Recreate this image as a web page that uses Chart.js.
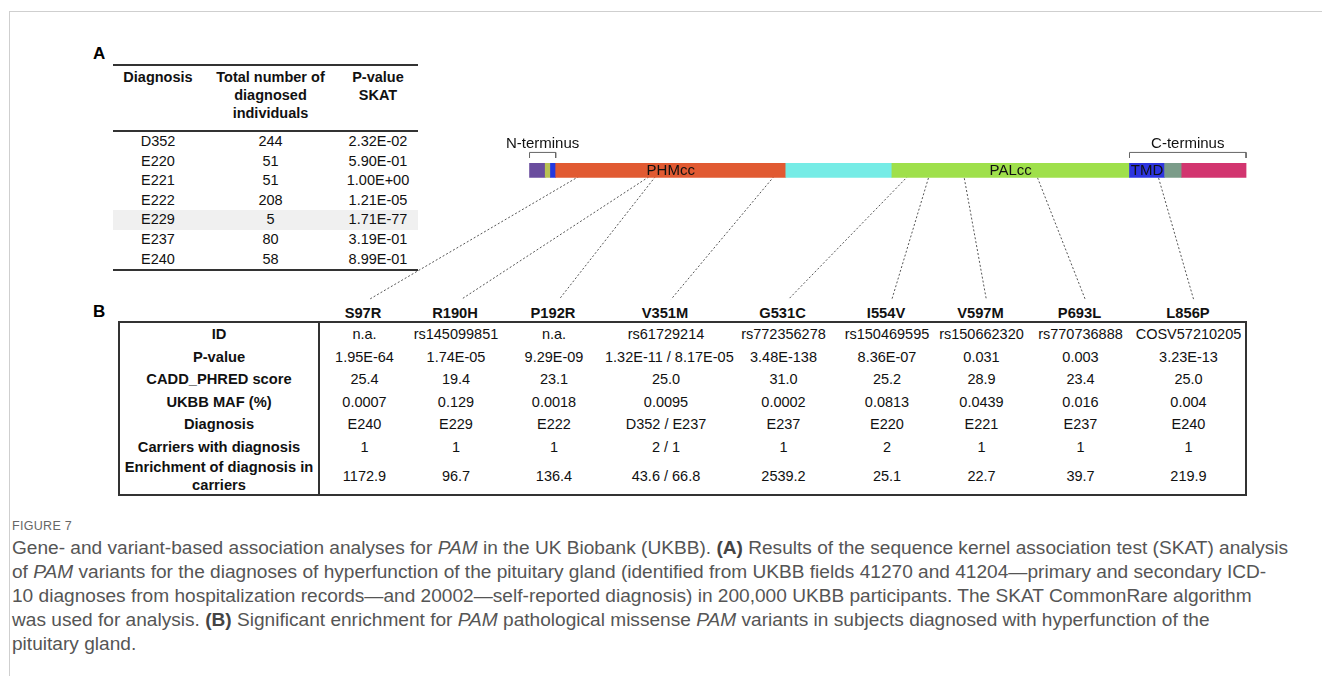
<!DOCTYPE html>
<html>
<head>
<meta charset="utf-8">
<script src="https://cdn.jsdelivr.net/npm/chart.js@4.4.1/dist/chart.umd.min.js"></script>
<style>
  html, body { margin: 0; padding: 0; background: #fff; }
  body { width: 1322px; height: 676px; position: relative; overflow: hidden; font-family: "Liberation Sans", Arial, sans-serif; color: #111; }
  .frame { position: absolute; left: 9px; top: 11px; width: 1320px; height: 700px; border-top: 1px solid #cfcfcf; border-left: 1px solid #cfcfcf; }
  .panel { position: absolute; font-weight: bold; font-size: 17px; color: #000; }
  #tabA { position: absolute; left: 113px; top: 64px; border-collapse: collapse; table-layout: fixed; font-size: 14.5px; }
  #tabA th { font-weight: bold; vertical-align: top; line-height: 18px; padding: 2px 0 0 0; height: 62px; text-align: center; }
  #tabA thead tr { border-top: 2px solid #333; border-bottom: 2px solid #333; }
  #tabA tbody tr:last-child { border-bottom: 2px solid #333; }
  #tabA td { height: 19.6px; padding: 0; text-align: center; line-height: 19.6px; }
  #tabA tr.hl td { background: #f0f0f0; }
  #mutHead { position: absolute; left: 318px; top: 304px; display: flex; font-weight: bold; font-size: 14.7px; line-height: 18px; }
  #mutHead span { display: block; text-align: center; white-space: nowrap; }
  #tabB { position: absolute; left: 118px; top: 321px; width: 1127px; border-collapse: collapse; table-layout: fixed; font-size: 14.5px; border: 2px solid #333; }
  #tabB td { padding: 0; text-align: center; line-height: 18px; white-space: nowrap; overflow: visible; }
  #tabB td.lab { font-weight: bold; border-right: 2px solid #333; white-space: normal; font-size: 14.7px; }
  #chartWrap { position: absolute; left: 340px; top: 130px; width: 920px; height: 175px; }
  #chartWrap canvas { display: block; }
  .figno { position: absolute; left: 12px; top: 519px; font-size: 12.5px; color: #666; letter-spacing: 0.3px; }
  .caption { position: absolute; left: 12px; top: 536px; font-size: 19.1px; line-height: 24px; color: #555; white-space: nowrap; }
  .caption b { color: #444; }
</style>
</head>
<body>
<div class="frame"></div>
<div class="panel" style="left:93px; top:44px;">A</div>
<div class="panel" style="left:93px; top:302px;">B</div>

<table id="tabA">
  <colgroup><col style="width:90px"><col style="width:135px"><col style="width:80px"></colgroup>
  <thead><tr><th>Diagnosis</th><th>Total number of diagnosed individuals</th><th>P-value SKAT</th></tr></thead>
  <tbody id="tabABody"></tbody>
</table>

<div id="mutHead"></div>
<table id="tabB"><colgroup id="tabBCols"></colgroup><tbody id="tabBBody"></tbody></table>

<div id="chartWrap"><canvas id="domainChart" width="920" height="175"></canvas></div>

<div class="figno">FIGURE 7</div>
<div class="caption">
Gene- and variant-based association analyses for <i>PAM</i> in the UK Biobank (UKBB). <b>(A)</b> Results of the sequence kernel association test (SKAT) analysis<br>
of <i>PAM</i> variants for the diagnoses of hyperfunction of the pituitary gland (identified from UKBB fields 41270 and 41204—primary and secondary ICD-<br>
10 diagnoses from hospitalization records—and 20002—self-reported diagnosis) in 200,000 UKBB participants. The SKAT CommonRare algorithm<br>
was used for analysis. <b>(B)</b> Significant enrichment for <i>PAM</i> pathological missense <i>PAM</i> variants in subjects diagnosed with hyperfunction of the<br>
pituitary gland.
</div>

<script>
// --- panel A: SKAT per diagnosis
const skatDiagnosis = ['D352', 'E220', 'E221', 'E222', 'E229', 'E237', 'E240'];
const skatTotal = [244, 51, 51, 208, 5, 80, 58];
const skatPvalue = ['2.32E-02', '5.90E-01', '1.00E+00', '1.21E-05', '1.71E-77', '3.19E-01', '8.99E-01'];

// --- protein domains (amino acid positions along PAM)
const domainStart = [17, 38, 45, 52, 360, 502, 820, 867, 890];
const domainEnd = [38, 45, 52, 360, 502, 820, 867, 890, 976];
const domainLabels = ['', '', '', 'PHMcc', '', 'PALcc', 'TMD', '', ''];
const domainColors = ['#6a4d9e', '#b9c153', '#2438e0', '#e15a32', '#76ece6', '#9fe04b', '#2e35df', '#7b9c89', '#d2356f'];
const terminusLabels = ['N-terminus', 'C-terminus'];
const terminusFrom = [17, 820];
const terminusTo = [52, 976];

// --- panel B: variants
const variants = ['S97R', 'R190H', 'P192R', 'V351M', 'G531C', 'I554V', 'V597M', 'P693L', 'L856P'];
const variantPos = [97, 190, 192, 351, 531, 554, 597, 693, 856];
const rowLabels = ['ID', 'P-value', 'CADD_PHRED score', 'UKBB MAF (%)', 'Diagnosis', 'Carriers with diagnosis', 'Enrichment of diagnosis in carriers'];
const variantId = ['n.a.', 'rs145099851', 'n.a.', 'rs61729214', 'rs772356278', 'rs150469595', 'rs150662320', 'rs770736888', 'COSV57210205'];
const variantP = ['1.95E-64', '1.74E-05', '9.29E-09', '1.32E-11 / 8.17E-05', '3.48E-138', '8.36E-07', '0.031', '0.003', '3.23E-13'];
const caddScore = ['25.4', '19.4', '23.1', '25.0', '31.0', '25.2', '28.9', '23.4', '25.0'];
const ukbbMaf = ['0.0007', '0.129', '0.0018', '0.0095', '0.0002', '0.0813', '0.0439', '0.016', '0.004'];
const variantDiag = ['E240', 'E229', 'E222', 'D352 / E237', 'E237', 'E220', 'E221', 'E237', 'E240'];
const carriers = ['1', '1', '1', '2 / 1', '1', '2', '1', '1', '1'];
const enrichment = ['1172.9', '96.7', '136.4', '43.6 / 66.8', '2539.2', '25.1', '22.7', '39.7', '219.9'];

const colWidths = [90, 94, 102, 122, 113, 94, 95, 103, 114];
const rowHeights = [23, 23, 22, 23, 22, 23, 36];

// build table A
const tbA = document.getElementById('tabABody');
skatDiagnosis.forEach((d, i) => {
    const tr = document.createElement('tr');
    if (d === 'E229') tr.className = 'hl';
    tr.innerHTML = `<td>${d}</td><td>${skatTotal[i]}</td><td>${skatPvalue[i]}</td>`;
    tbA.appendChild(tr);
});

// build table B
const head = document.getElementById('mutHead');
variants.forEach((v, i) => {
    const s = document.createElement('span');
    s.style.width = colWidths[i] + 'px';
    s.textContent = v;
    head.appendChild(s);
});
const cols = document.getElementById('tabBCols');
cols.innerHTML = '<col style="width:200px">' + colWidths.map(w => `<col style="width:${w}px">`).join('');
const rowsB = [variantId, variantP, caddScore, ukbbMaf, variantDiag, carriers, enrichment];
const tbB = document.getElementById('tabBBody');
rowsB.forEach((vals, r) => {
    const tr = document.createElement('tr');
    tr.style.height = rowHeights[r] + 'px';
    tr.innerHTML = `<td class="lab">${rowLabels[r]}</td>` + vals.map(v => `<td>${v}</td>`).join('');
    tbB.appendChild(tr);
});

// vertical levels inside the chart (0 = table header, 1 = top)
const BAR_LEVEL = 0.771;
const LINE_END = 0.03;
const BRACKET_TOP = 0.874;
const BRACKET_FOOT = 0.842;
const TERM_TEXT = 0.926;

const labelPlugin = {
    id: 'domainText',
    afterDatasetsDraw(chart) {
        const ctx = chart.ctx;
        const meta = chart.getDatasetMeta(0);
        ctx.save();
        ctx.fillStyle = '#111';
        ctx.font = '15px "Liberation Sans", Arial, sans-serif';
        ctx.textAlign = 'center';
        ctx.textBaseline = 'middle';
        meta.data.forEach((el, i) => {
            if (!domainLabels[i]) return;
            const p = el.getProps(['x', 'base', 'y'], true);
            ctx.fillText(domainLabels[i], (p.x + p.base) / 2, p.y + 1);
        });
        const xs = chart.scales.x, ys = chart.scales.y;
        terminusLabels.forEach((t, i) => {
            ctx.fillText(t, xs.getPixelForValue((terminusFrom[i] + terminusTo[i]) / 2), ys.getPixelForValue(TERM_TEXT));
        });
        ctx.restore();
    }
};

const connectorSets = variants.map((v, i) => ({
    type: 'line',
    label: v,
    data: [{ x: variantPos[i], y: BAR_LEVEL }, { x: variantPos[i], y: LINE_END }],
    borderColor: '#555',
    borderWidth: 1,
    borderDash: [2, 2],
    pointRadius: 0,
    order: 2
}));

const bracketSets = terminusLabels.map((t, i) => ({
    type: 'line',
    label: t,
    data: [
        { x: terminusFrom[i], y: BRACKET_FOOT }, { x: terminusFrom[i], y: BRACKET_TOP },
        { x: terminusTo[i], y: BRACKET_TOP }, { x: terminusTo[i], y: BRACKET_FOOT }
    ],
    borderColor: '#666',
    borderWidth: 1,
    pointRadius: 0,
    order: 2
}));

const chart = new Chart(document.getElementById('domainChart'), {
    type: 'bar',
    data: {
        datasets: [
            {
                label: 'domains',
                data: domainStart.map((s, i) => ({ x: [s, domainEnd[i]], y: BAR_LEVEL })),
                backgroundColor: domainColors,
                borderWidth: 0,
                barThickness: 14,
                order: 0
            },
            ...connectorSets,
            ...bracketSets
        ]
    },
    options: {
        indexAxis: 'y',
        responsive: false,
        animation: false,
        layout: { padding: 0 },
        scales: {
            x: { type: 'linear', min: -236, max: 994, offset: false, display: false },
            y: { type: 'linear', min: 0, max: 1, offset: false, display: false }
        },
        plugins: { legend: { display: false }, tooltip: { enabled: false } }
    },
    plugins: [labelPlugin]
});

// land each connector on its column header in panel B
window.onload = () => {
    const cRect = chart.canvas.getBoundingClientRect();
    const spans = document.querySelectorAll('#mutHead span');
    variants.forEach((v, i) => {
        const r = spans[i].getBoundingClientRect();
        const px = r.left + r.width / 2 + 6 - cRect.left;
        chart.data.datasets[i + 1].data[1].x = chart.scales.x.getValueForPixel(px);
    });
    chart.update('none');
};
</script>
</body>
</html>
